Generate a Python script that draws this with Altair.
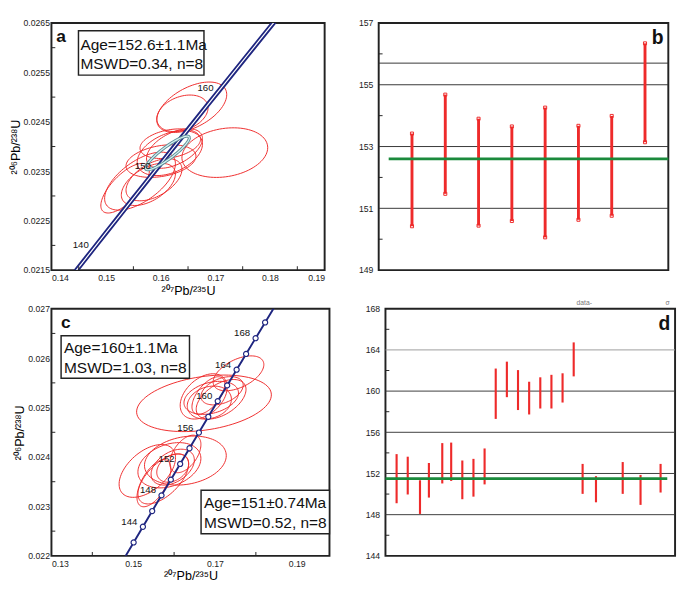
import numpy as np
import pandas as pd
import altair as alt

# ---------------- values ----------------
# concordia reference points (age in Ma, 207Pb/235U, 206Pb/238U)
conc_age = [136, 138, 140, 142, 144, 146, 148, 150, 152, 154, 156, 158, 160, 162, 164, 166, 168, 170, 172]
conc_x = [0.14332, 0.14558, 0.14784, 0.15010, 0.15237, 0.15464, 0.15692, 0.15920, 0.16148, 0.16377,
          0.16607, 0.16837, 0.17067, 0.17298, 0.17529, 0.17761, 0.17993, 0.18226, 0.18459]
conc_y = [0.021321, 0.021638, 0.021955, 0.022272, 0.022589, 0.022907, 0.023224, 0.023542, 0.023859, 0.024177,
          0.024495, 0.024813, 0.025131, 0.025449, 0.025767, 0.026085, 0.026404, 0.026722, 0.027041]
a_conc_labels = [140, 150, 160]
c_conc_marks = [142, 144, 146, 148, 150, 152, 154, 156, 158, 160, 162, 164, 166, 168, 170]
c_conc_labels = [144, 148, 152, 156, 160, 164, 168]

# panel a : error ellipses (centre, half-widths, correlation)
a_cx = [0.16568, 0.16397, 0.17173, 0.15621, 0.16167, 0.16005, 0.15774, 0.16252, 0.15348, 0.15877, 0.16175]
a_cy = [0.024795, 0.024672, 0.023877, 0.023300, 0.023867, 0.023706, 0.023233, 0.023960, 0.023157, 0.023328, 0.024057]
a_sx = [0.0064, 0.00469, 0.00785, 0.00648, 0.00597, 0.0064, 0.00495, 0.00512, 0.00444, 0.00512, 0.00554]
a_sy = [0.00051, 0.00037, 0.000502, 0.000587, 0.000455, 0.00033, 0.000426, 0.0004, 0.000502, 0.000426, 0.0003]
a_rho = [0.5, 0.3, 0.2, 0.6, 0.4, 0.3, 0.5, 0.5, 0.7, 0.5, 0.3]
a_mean = {"cx": 0.16124, "cy": 0.023870, "sx": 0.0040, "sy": 0.00034, "rho": 0.9}
a_xticks = [0.14, 0.15, 0.16, 0.17, 0.18, 0.19]
a_xminor = [0.145, 0.155, 0.165, 0.175, 0.185]
a_yticks = [0.0215, 0.0225, 0.0235, 0.0245, 0.0255, 0.0265]
a_yminor = [0.022, 0.023, 0.024, 0.025, 0.026]
a_text = ["Age=152.6±1.1Ma", " MSWD=0.34, n=8"]

# panel c : error ellipses
c_cx = [0.16731, 0.17575, 0.16724, 0.16908, 0.17150, 0.16839, 0.16862, 0.17173,
        0.15345, 0.15885, 0.16276, 0.16276, 0.15736, 0.15966, 0.15506, 0.15966]
c_cy = [0.025086, 0.025693, 0.025226, 0.025197, 0.025168, 0.025244, 0.025101, 0.025340,
        0.023718, 0.023833, 0.023928, 0.024062, 0.023556, 0.023795, 0.023470, 0.023776]
c_sx = [0.01648, 0.0062, 0.00575, 0.00667, 0.00609, 0.00402, 0.0054, 0.00517,
        0.0069, 0.0077, 0.0100, 0.0038, 0.0062, 0.00529, 0.00414, 0.0039]
c_sy = [0.000572, 0.000353, 0.000458, 0.000334, 0.0004, 0.00038, 0.000334, 0.000286,
        0.000534, 0.000458, 0.000496, 0.00038, 0.000506, 0.000363, 0.000477, 0.000286]
c_rho = [0.3, 0.5, 0.4, 0.3, 0.5, 0.6, 0.2, 0.4, 0.5, 0.3, 0.2, 0.5, 0.6, 0.4, 0.6, 0.3]
c_xticks = [0.13, 0.15, 0.17, 0.19]
c_xminor = [0.14, 0.16, 0.18]
c_yticks = [0.022, 0.023, 0.024, 0.025, 0.026, 0.027]
c_yminor = [0.0225, 0.0235, 0.0245, 0.0255, 0.0265]
c_text1 = ["Age=160±1.1Ma", " MSWD=1.03, n=8"]
c_text2 = ["Age=151±0.74Ma", " MSWD=0.52, n=8"]

# panel b : weighted-mean age bars
b_pos = [1, 2, 3, 4, 5, 6, 7, 8]
b_hi = [153.42, 154.68, 153.90, 153.65, 154.26, 153.67, 153.99, 156.34]
b_lo = [150.42, 151.47, 150.44, 150.59, 150.06, 150.63, 150.76, 153.14]
b_mean = 152.6
b_grid = [151, 153, 155, 155.7]
b_yticks = [149, 151, 153, 155, 157]
b_yminor = [150, 152, 154, 156]

# panel d
d_pos = [1.0, 2.0, 3.1, 3.9, 5.1, 5.9, 6.9, 7.9, 8.9, 9.9, 10.9, 11.9, 12.9, 13.9, 14.9, 15.9,
         16.9, 17.7, 18.9, 21.3, 22.9, 24.7]
d_hi = [153.88, 153.63, 151.34, 153.02, 154.95, 155.0, 153.26, 153.42, 154.43, 162.19, 162.86,
        162.04, 160.91, 161.34, 161.58, 161.73, 164.73, 152.93, 151.74, 153.11, 151.86, 152.93]
d_lo = [149.11, 149.96, 148.07, 149.66, 151.03, 151.28, 149.50, 149.75, 150.94, 157.30, 159.41,
        158.16, 157.73, 158.31, 158.31, 158.89, 161.43, 150.02, 149.20, 150.02, 148.95, 150.15]
d_mean = 151.5
d_grid = [148, 152, 156, 160, 164]
d_yticks = [144, 148, 152, 156, 160, 164, 168]
d_yminor = [146, 150, 154, 158, 162, 166]

RED = "#ee2a2a"
NAVY = "#1f2680"
GREEN = "#1b8a3c"
FONT = "Liberation Sans"

# ---------------- helpers ----------------
def ellipses(cx, cy, sx, sy, rho, n=90):
    rows = []
    t = np.linspace(0, 2 * np.pi, n)
    for i in range(len(cx)):
        xs = cx[i] + sx[i] * np.cos(t)
        ys = cy[i] + sy[i] * (rho[i] * np.cos(t) + np.sqrt(1 - rho[i] ** 2) * np.sin(t))
        for k in range(n):
            rows.append({"id": i, "k": k, "x": xs[k], "y": ys[k]})
    return pd.DataFrame(rows)


conc = pd.DataFrame({"age": conc_age, "x": conc_x, "y": conc_y})


def box(x1, x2, y1, y2):
    return alt.Chart(pd.DataFrame({"k": [0]})).mark_rect(
        fill="white", stroke="#222", strokeWidth=1.5
    ).encode(x=alt.value(x1), x2=alt.value(x2), y=alt.value(y1), y2=alt.value(y2))


def label(txt, x, y, size=16, weight="normal", color="#111", align="left"):
    return alt.Chart(pd.DataFrame({"t": [txt]})).mark_text(
        align=align, baseline="alphabetic", fontSize=size, fontWeight=weight, font=FONT, color=color
    ).encode(text="t:N", x=alt.value(x), y=alt.value(y))


def xminor(vals, xenc, H):
    return alt.Chart(pd.DataFrame({"x": vals})).mark_rule(color="#222", strokeWidth=1).encode(
        x=xenc, y=alt.value(H), y2=alt.value(H - 4))


def yminor(vals, yenc):
    return alt.Chart(pd.DataFrame({"y": vals})).mark_rule(color="#222", strokeWidth=1).encode(
        y=yenc, x=alt.value(0), x2=alt.value(4))


# ---------------- panel a ----------------
AW, AH = 283, 256
ax = alt.X("x:Q", scale=alt.Scale(domain=[0.14, 0.19], nice=False, zero=False),
           axis=alt.Axis(values=a_xticks, format=".2f", title="²⁰⁷Pb/²³⁵U", labelPadding=4,
                         titlePadding=2, titleFontSize=13))
ay = alt.Y("y:Q", scale=alt.Scale(domain=[0.0215, 0.0265], nice=False, zero=False),
           axis=alt.Axis(values=a_yticks, format=".4f", title="²⁰⁶Pb/²³⁸U", labelPadding=2,
                         titlePadding=1, titleFontSize=13))

a_ell = alt.Chart(ellipses(a_cx, a_cy, a_sx, a_sy, a_rho)).mark_line(
    color=RED, strokeWidth=1, clip=True).encode(x=ax, y=ay, detail="id:N", order="k:Q")
a_band = alt.Chart(conc).mark_line(color=NAVY, strokeWidth=5, clip=True).encode(x=ax, y=ay, order="age:Q")
a_band2 = alt.Chart(conc).mark_line(color="white", strokeWidth=1.2, clip=True).encode(x=ax, y=ay, order="age:Q")
a_meanell = ellipses([a_mean["cx"]], [a_mean["cy"]], [a_mean["sx"]], [a_mean["sy"]], [a_mean["rho"]])
a_m1 = alt.Chart(a_meanell).mark_line(color="#5b8d94", strokeWidth=3.2).encode(x=ax, y=ay, order="k:Q")
a_m2 = alt.Chart(a_meanell).mark_line(color="#d4f0f2", strokeWidth=1.3).encode(x=ax, y=ay, order="k:Q")
a_lab = alt.Chart(conc[conc.age.isin(a_conc_labels)]).mark_text(
    fontSize=10, font=FONT, color="#111", dx=-14, dy=-3).encode(x=ax, y=ay, text="age:N")

panel_a = alt.layer(
    a_ell, a_band, a_band2, a_m1, a_m2, a_lab,
    xminor(a_xminor, ax, AH), yminor(a_yminor, ay),
    box(28, 158, 8, 54),
    label(a_text[0], 30, 28), label(a_text[1], 30, 48),
    label("a", 5, 20, size=18, weight="bold"),
).properties(width=AW, height=AH)

# ---------------- panel b ----------------
BW, BH = 300, 256
bx = alt.X("x:Q", scale=alt.Scale(domain=[0, 8.7], nice=False, zero=False), axis=None)
by = alt.Y("y:Q", scale=alt.Scale(domain=[149, 157], nice=False, zero=False),
           axis=alt.Axis(values=b_yticks, format="d", title=None, labelPadding=6))
bdf = pd.DataFrame({"x": b_pos, "y": b_lo, "y2": b_hi})
b_grid_l = alt.Chart(pd.DataFrame({"y": b_grid})).mark_rule(color="#333", strokeWidth=1).encode(
    y=by, x=alt.value(0), x2=alt.value(BW))
b_bars = alt.Chart(bdf).mark_rule(color=RED, strokeWidth=3).encode(x=bx, y=by, y2="y2:Q")
caps = pd.concat([pd.DataFrame({"x": b_pos, "y": b_lo}), pd.DataFrame({"x": b_pos, "y": b_hi})])
b_caps = alt.Chart(caps).mark_point(shape="square", size=10, color=RED, filled=False,
                                    strokeWidth=1, opacity=1).encode(x=bx, y=by)
b_mean_l = alt.Chart(pd.DataFrame({"x": [0.3], "x2": [8.7], "y": [b_mean]})).mark_rule(
    color=GREEN, strokeWidth=3).encode(x=bx, x2="x2:Q", y=by)
panel_b = alt.layer(
    b_grid_l, b_bars, b_caps, b_mean_l, yminor(b_yminor, by),
    label("b", BW - 5, 22, size=20, weight="bold", align="right"),
).properties(width=BW, height=BH)

# ---------------- panel c ----------------
CW, CH = 288, 256
cx_ = alt.X("x:Q", scale=alt.Scale(domain=[0.13, 0.198], nice=False, zero=False),
            axis=alt.Axis(values=c_xticks, format=".2f", title="²⁰⁷Pb/²³⁵U", labelPadding=4,
                          titlePadding=2, titleFontSize=13))
cy_ = alt.Y("y:Q", scale=alt.Scale(domain=[0.022, 0.027], nice=False, zero=False),
            axis=alt.Axis(values=c_yticks, format=".3f", title="²⁰⁶Pb/²³⁸U", labelPadding=2,
                          titlePadding=1, titleFontSize=13))
c_ell = alt.Chart(ellipses(c_cx, c_cy, c_sx, c_sy, c_rho)).mark_line(
    color=RED, strokeWidth=1, clip=True).encode(x=cx_, y=cy_, detail="id:N", order="k:Q")
c_line = alt.Chart(conc).mark_line(color=NAVY, strokeWidth=2, clip=True).encode(x=cx_, y=cy_, order="age:Q")
c_pts = alt.Chart(conc[conc.age.isin(c_conc_marks)]).mark_point(
    shape="circle", size=28, filled=True, fill="white", stroke=NAVY, strokeWidth=1.2, opacity=1
).encode(x=cx_, y=cy_)
c_lab = alt.Chart(conc[conc.age.isin(c_conc_labels)]).mark_text(
    fontSize=10, font=FONT, color="#111", dx=-14, dy=-5).encode(x=cx_, y=cy_, text="age:N")
panel_c = alt.layer(
    c_ell, c_line, c_pts, c_lab,
    xminor(c_xminor, cx_, CH), yminor(c_yminor, cy_),
    box(10, 143, 28, 72),
    label(c_text1[0], 13, 46), label(c_text1[1], 13, 67),
    box(155, 288, 188, 233),
    label(c_text2[0], 158, 206), label(c_text2[1], 158, 227),
    label("c", 10, 20, size=18, weight="bold"),
).properties(width=CW, height=CH)

# ---------------- panel d ----------------
DW, DH = 300, 256
dx_ = alt.X("x:Q", scale=alt.Scale(domain=[0, 26], nice=False, zero=False), axis=None)
dy_ = alt.Y("y:Q", scale=alt.Scale(domain=[144, 168], nice=False, zero=False),
            axis=alt.Axis(values=d_yticks, format="d", title=None, labelPadding=6))
d_grid_l = alt.Chart(pd.DataFrame({"y": d_grid, "c": ["d", "d", "d", "d", "l"]})).mark_rule(strokeWidth=1).encode(
    y=dy_, x=alt.value(0), x2=alt.value(DW),
    color=alt.Color("c:N", scale=alt.Scale(domain=["d", "l"], range=["#3a3a3a", "#9a9a9a"]), legend=None))
d_bars = alt.Chart(pd.DataFrame({"x": d_pos, "y": d_lo, "y2": d_hi})).mark_rule(
    color=RED, strokeWidth=2.2).encode(x=dx_, y=dy_, y2="y2:Q")
d_mean_l = alt.Chart(pd.DataFrame({"x": [0], "x2": [25.3], "y": [d_mean]})).mark_rule(
    color=GREEN, strokeWidth=3).encode(x=dx_, x2="x2:Q", y=dy_)
panel_d = alt.layer(
    d_grid_l, d_bars, d_mean_l, yminor(d_yminor, dy_),
    label("data-", 198, -4, size=7, color="#777"),
    label("σ", 290, -4, size=7, color="#777"),
    label("d", DW - 5, 22, size=20, weight="bold", align="right"),
).properties(width=DW, height=DH)

row1 = alt.hconcat(panel_a, panel_b, spacing=32)
row2 = alt.hconcat(panel_c, panel_d, spacing=33)
chart = alt.vconcat(row1, row2, spacing=0).resolve_scale(x="independent", y="independent").configure_view(
    stroke="#222", strokeWidth=2
).configure_axis(
    domain=False, ticks=False, grid=False, labelFont=FONT, labelFontSize=9, labelColor="#222",
    titleFont=FONT, titleFontWeight="normal", titleColor="#000"
).properties(padding=0, background="white")

chart.save("out.html", embed_options={"renderer": "svg", "actions": False})
